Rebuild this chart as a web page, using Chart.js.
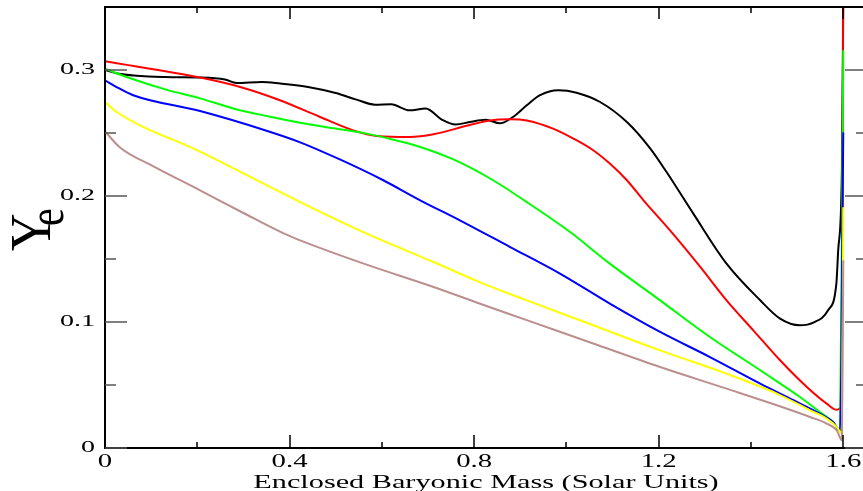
<!DOCTYPE html>
<html lang="en">
<head>
<meta charset="UTF-8">
<title>Ye profiles</title>
<script src="https://cdn.jsdelivr.net/npm/chart.js"></script>
<style>
  html, body { margin: 0; padding: 0; background: white; overflow: hidden; }
  canvas { display: block; }
</style>
</head>
<body>
<canvas id="yeChart" width="880" height="491"></canvas>
<script>
// enclosed mass (x) and Ye (y), one pair of arrays per curve
const blackX = [0, 0.03, 0.13, 0.21, 0.26, 0.285, 0.34, 0.38, 0.44, 0.5, 0.545, 0.585, 0.62, 0.66, 0.695, 0.73, 0.76, 0.79, 0.825, 0.856, 0.884, 0.914, 0.943, 0.982, 1.022, 1.073, 1.131, 1.181, 1.217, 1.275, 1.347, 1.42, 1.463, 1.506, 1.535, 1.567, 1.585, 1.589, 1.597, 1.6];
const blackY = [0.300, 0.297, 0.2944, 0.294, 0.2924, 0.2897, 0.2905, 0.2892, 0.2865, 0.2817, 0.2765, 0.2725, 0.2728, 0.268, 0.2694, 0.2606, 0.2567, 0.2587, 0.2606, 0.2577, 0.2627, 0.272, 0.280, 0.2839, 0.282, 0.2746, 0.2587, 0.238, 0.219, 0.186, 0.1463, 0.1172, 0.1027, 0.0974, 0.0995, 0.1093, 0.1305, 0.157, 0.22, 0.36];

const redX = [0, 0.206, 0.293, 0.379, 0.466, 0.538, 0.589, 0.661, 0.712, 0.784, 0.834, 0.878, 0.914, 0.971, 1.015, 1.058, 1.094, 1.131, 1.167, 1.225, 1.29, 1.347, 1.405, 1.463, 1.521, 1.564, 1.586, 1.593, 1.597, 1.6];
const redY = [0.307, 0.294, 0.2865, 0.276, 0.2627, 0.2521, 0.2476, 0.2468, 0.249, 0.2557, 0.26, 0.2609, 0.26, 0.2535, 0.2456, 0.2363, 0.2257, 0.2125, 0.1966, 0.1725, 0.1437, 0.1172, 0.0934, 0.0696, 0.0484, 0.0352, 0.0303, 0.0313, 0.0405, 0.40];

const greenX = [0, 0.05, 0.134, 0.206, 0.278, 0.35, 0.423, 0.495, 0.567, 0.625, 0.683, 0.755, 0.841, 0.914, 1.008, 1.094, 1.203, 1.311, 1.42, 1.506, 1.549, 1.578, 1.593, 1.6];
const greenY = [0.301, 0.294, 0.2842, 0.2775, 0.2695, 0.2635, 0.2582, 0.2538, 0.2495, 0.2447, 0.2389, 0.229, 0.2125, 0.1952, 0.1714, 0.1463, 0.1172, 0.0881, 0.0617, 0.0405, 0.0286, 0.0206, 0.014, 0.3156];

const blueX = [0, 0.025, 0.061, 0.206, 0.35, 0.423, 0.509, 0.603, 0.683, 0.769, 0.878, 0.986, 1.094, 1.203, 1.311, 1.42, 1.492, 1.549, 1.578, 1.593, 1.6];
const blueY = [0.2918, 0.2865, 0.28, 0.2674, 0.2518, 0.2426, 0.229, 0.2125, 0.1966, 0.1807, 0.1595, 0.1384, 0.1146, 0.0921, 0.0722, 0.0511, 0.0379, 0.0273, 0.0206, 0.014, 0.2505];

const yellowX = [0, 0.025, 0.206, 0.423, 0.567, 0.712, 0.813, 0.914, 1.058, 1.203, 1.347, 1.456, 1.528, 1.564, 1.586, 1.597, 1.6];
const yellowY = [0.2746, 0.2667, 0.2352, 0.1952, 0.1702, 0.1476, 0.1315, 0.1172, 0.0974, 0.0775, 0.059, 0.0432, 0.0299, 0.0233, 0.0167, 0.0114, 0.191];

const brownX = [0, 0.0325, 0.105, 0.206, 0.3, 0.386, 0.423, 0.567, 0.712, 0.813, 0.914, 1.058, 1.203, 1.347, 1.456, 1.528, 1.564, 1.586, 1.597, 1.6];
const brownY = [0.2513, 0.2385, 0.2235, 0.2045, 0.1865, 0.1705, 0.1648, 0.1455, 0.1278, 0.1145, 0.1015, 0.0829, 0.0643, 0.0471, 0.0339, 0.0246, 0.0194, 0.014, 0.0061, 0.149];

const xTicks = [0, 0.4, 0.8, 1.2, 1.6];
const xTickLabels = ['0', '0.4', '0.8', '1.2', '1.6'];
const xMinor = [0.2, 0.6, 1.0, 1.4];
const yTicks = [0, 0.1, 0.2, 0.3];
const yTickLabels = ['0', '0.1', '0.2', '0.3'];
const yMinor = [0.05, 0.15, 0.25];
const xTitle = 'Enclosed Baryonic Mass (Solar Units)';

function pts(xs, ys) {
  return xs.map((x, i) => ({ x: x, y: ys[i] }));
}

function line(xs, ys, color, order) {
  return {
    data: pts(xs, ys),
    borderColor: color,
    borderWidth: 2,
    pointRadius: 0,
    fill: false,
    cubicInterpolationMode: 'monotone',
    order: order
  };
}

// the original lettering is stretched sideways, so draw it scaled
function wideText(ctx, text, x, y, sx, align, size) {
  ctx.save();
  ctx.translate(x, y);
  ctx.scale(sx, 1);
  ctx.font = size + 'px "Liberation Serif"';
  ctx.textAlign = align;
  ctx.textBaseline = 'middle';
  ctx.fillText(text, 0, 0);
  ctx.restore();
}

// box, inward ticks on all four sides, tick labels and axis titles
const frame = {
  id: 'frame',
  afterDraw(chart) {
    const ctx = chart.ctx;
    const a = chart.chartArea;
    const xs = chart.scales.x, ys = chart.scales.y;
    ctx.save();
    ctx.strokeStyle = '#000';
    ctx.lineWidth = 2;
    ctx.strokeRect(a.left, a.top, a.right - a.left, a.bottom - a.top);

    ctx.lineWidth = 1.5;
    ctx.beginPath();
    xTicks.forEach(v => {
      const px = Math.round(xs.getPixelForValue(v));
      ctx.moveTo(px, a.bottom); ctx.lineTo(px, a.bottom - 13);
      ctx.moveTo(px, a.top); ctx.lineTo(px, a.top + 12);
    });
    xMinor.forEach(v => {
      const px = Math.round(xs.getPixelForValue(v));
      ctx.moveTo(px, a.bottom); ctx.lineTo(px, a.bottom - 6);
      ctx.moveTo(px, a.top); ctx.lineTo(px, a.top + 6);
    });
    ctx.stroke();

    ctx.strokeStyle = '#555';
    ctx.beginPath();
    yTicks.forEach(v => {
      const py = Math.round(ys.getPixelForValue(v));
      ctx.moveTo(a.left, py); ctx.lineTo(a.left + 22, py);
      ctx.moveTo(a.right, py); ctx.lineTo(a.right - 22, py);
    });
    yMinor.forEach(v => {
      const py = Math.round(ys.getPixelForValue(v));
      ctx.moveTo(a.left, py); ctx.lineTo(a.left + 11, py);
      ctx.moveTo(a.right, py); ctx.lineTo(a.right - 11, py);
    });
    ctx.stroke();

    ctx.fillStyle = '#000';
    yTicks.forEach((v, i) => {
      wideText(ctx, yTickLabels[i], a.left - 10, ys.getPixelForValue(v), 1.65, 'right', 17);
    });
    xTicks.forEach((v, i) => {
      wideText(ctx, xTickLabels[i], xs.getPixelForValue(v), a.bottom + 14, 1.6, 'center', 18);
    });
    wideText(ctx, xTitle, (a.left + a.right) / 2, a.bottom + 35, 1.68, 'center', 18);

    // Y with subscript e, turned to read upwards
    ctx.textAlign = 'left';
    ctx.textBaseline = 'alphabetic';
    ctx.save();
    ctx.translate(50, 251);
    ctx.scale(1.1, 1);
    ctx.rotate(-Math.PI / 2);
    ctx.font = '52px "Liberation Serif"';
    ctx.fillText('Y', 0, 0);
    ctx.restore();
    ctx.save();
    ctx.translate(63, 226);
    ctx.scale(1.28, 1);
    ctx.rotate(-Math.PI / 2);
    ctx.font = '40px "Liberation Serif"';
    ctx.fillText('e', 0, 0);
    ctx.restore();
    ctx.restore();
  }
};

new Chart(document.getElementById('yeChart'), {
  type: 'line',
  data: {
    datasets: [
      line(blackX, blackY, '#000000', 5),
      line(redX, redY, '#ff0000', 4),
      line(greenX, greenY, '#00ff00', 3),
      line(blueX, blueY, '#0000ff', 2),
      line(yellowX, yellowY, '#ffff00', 1),
      line(brownX, brownY, 'rgb(188,143,143)', 0)
    ]
  },
  options: {
    responsive: false,
    animation: false,
    layout: { padding: { top: 7, right: 13, left: 0, bottom: 0 } },
    plugins: { legend: { display: false }, tooltip: { enabled: false } },
    scales: {
      x: {
        type: 'linear',
        min: 0,
        max: 1.6514,
        afterBuildTicks: s => { s.ticks = xTicks.map(v => ({ value: v })); },
        afterFit: s => { s.height = 43; },
        grid: { display: false },
        border: { display: false },
        ticks: { display: false }
      },
      y: {
        type: 'linear',
        min: 0,
        max: 0.35,
        afterBuildTicks: s => { s.ticks = yTicks.map(v => ({ value: v })); },
        afterFit: s => { s.width = 105; },
        grid: { display: false },
        border: { display: false },
        ticks: { display: false }
      }
    }
  },
  plugins: [frame]
});
</script>
</body>
</html>
